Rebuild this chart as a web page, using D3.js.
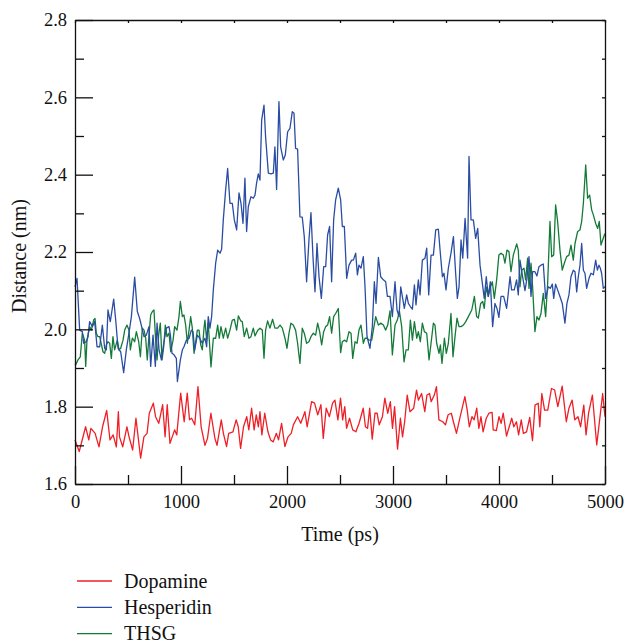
<!DOCTYPE html>
<html>
<head>
<meta charset="utf-8">
<script src="https://cdn.jsdelivr.net/npm/d3@7"></script>
<style>
body { margin: 0; background: #fff; }
text { font-family: "Liberation Serif", "DejaVu Serif", serif; fill: #111; }
</style>
</head>
<body>
<svg id="chart" width="627" height="642"></svg>
<script>
// [time (ps), distance (nm)]
var dopamine = [[0,1.714],[40,1.684],[100,1.748],[130,1.714],[150,1.744],[190,1.731],[226,1.696],[260,1.748],[299,1.79],[330,1.714],[360,1.727],[390,1.696],[409,1.787],[420,1.722],[450,1.696],[490,1.748],[510,1.722],[544,1.688],[575,1.77],[619,1.667],[650,1.722],[680,1.731],[701,1.783],[739,1.809],[760,1.774],[790,1.757],[827,1.805],[850,1.722],[870,1.805],[896,1.705],[940,1.74],[960,1.727],[997,1.835],[1030,1.761],[1059,1.835],[1080,1.766],[1100,1.77],[1130,1.753],[1160,1.852],[1190,1.748],[1226,1.7],[1250,1.718],[1282,1.783],[1320,1.718],[1340,1.7],[1380,1.766],[1400,1.731],[1430,1.697],[1450,1.731],[1490,1.735],[1520,1.766],[1540,1.748],[1562,1.692],[1590,1.748],[1620,1.774],[1640,1.74],[1666,1.796],[1690,1.74],[1710,1.779],[1730,1.748],[1745,1.787],[1763,1.727],[1790,1.783],[1820,1.735],[1845,1.714],[1870,1.709],[1900,1.731],[1920,1.714],[1949,1.757],[1980,1.697],[2010,1.722],[2040,1.731],[2060,1.753],[2100,1.774],[2130,1.757],[2169,1.787],[2190,1.748],[2232,1.813],[2260,1.809],[2290,1.779],[2320,1.805],[2342,1.718],[2370,1.796],[2400,1.774],[2430,1.809],[2452,1.817],[2480,1.766],[2505,1.822],[2525,1.766],[2545,1.8],[2562,1.744],[2590,1.77],[2620,1.74],[2650,1.735],[2680,1.757],[2719,1.796],[2740,1.748],[2760,1.744],[2780,1.796],[2804,1.716],[2830,1.783],[2850,1.783],[2870,1.753],[2900,1.774],[2923,1.822],[2950,1.783],[2975,1.813],[2995,1.744],[3015,1.8],[3043,1.69],[3070,1.77],[3090,1.722],[3110,1.761],[3134,1.83],[3160,1.787],[3195,1.796],[3222,1.843],[3240,1.817],[3270,1.834],[3300,1.787],[3320,1.83],[3345,1.834],[3360,1.813],[3390,1.83],[3410,1.852],[3433,1.766],[3470,1.761],[3495,1.753],[3520,1.779],[3550,1.783],[3570,1.761],[3599,1.731],[3630,1.77],[3678,1.826],[3700,1.791],[3720,1.748],[3745,1.774],[3765,1.766],[3790,1.796],[3810,1.744],[3830,1.774],[3850,1.735],[3880,1.77],[3905,1.783],[3935,1.785],[3945,1.74],[3975,1.738],[4000,1.774],[4020,1.757],[4040,1.783],[4071,1.724],[4120,1.77],[4140,1.748],[4165,1.761],[4185,1.727],[4210,1.766],[4230,1.731],[4260,1.735],[4290,1.772],[4316,1.712],[4340,1.804],[4370,1.809],[4385,1.748],[4404,1.834],[4430,1.791],[4460,1.791],[4495,1.847],[4525,1.843],[4555,1.8],[4596,1.853],[4635,1.761],[4660,1.796],[4690,1.817],[4715,1.766],[4745,1.774],[4770,1.748],[4800,1.804],[4821,1.727],[4845,1.783],[4881,1.83],[4922,1.701],[4960,1.791],[4978,1.834],[5000,1.774]];

var hesperidin = [[0,2.11],[19,2.132],[44,1.998],[69,1.994],[82,1.964],[107,1.968],[123,1.981],[138,2.02],[164,2.007],[186,2.02],[208,1.955],[233,1.955],[258,2.011],[280,1.951],[296,1.947],[311,2.05],[333,2.02],[365,2.078],[384,2.024],[406,1.951],[431,1.942],[459,1.888],[484,1.947],[509,1.99],[532,2.033],[563,2.135],[588,2.046],[610,2.028],[632,2.003],[651,1.981],[673,1.985],[698,2.007],[714,1.904],[736,1.985],[758,1.904],[774,2.016],[793,1.947],[815,1.921],[837,1.964],[862,2.003],[887,2.007],[900,1.985],[915,1.938],[934,1.934],[956,1.925],[966,1.865],[994,1.921],[1013,1.947],[1028,1.955],[1050,1.972],[1076,1.977],[1098,1.998],[1113,1.994],[1129,1.947],[1154,1.985],[1176,1.977],[1201,1.964],[1226,1.977],[1242,1.955],[1257,2.033],[1273,2.003],[1289,2.033],[1305,2.102],[1327,2.171],[1346,2.205],[1368,2.197],[1383,2.207],[1399,2.283],[1421,2.36],[1440,2.416],[1462,2.326],[1484,2.326],[1503,2.283],[1525,2.257],[1547,2.353],[1566,2.326],[1585,2.274],[1603,2.391],[1619,2.253],[1635,2.317],[1660,2.343],[1682,2.339],[1698,2.347],[1713,2.378],[1729,2.402],[1745,2.386],[1761,2.541],[1783,2.58],[1798,2.498],[1824,2.404],[1849,2.402],[1871,2.404],[1886,2.472],[1902,2.362],[1924,2.589],[1940,2.472],[1965,2.438],[1984,2.451],[2006,2.511],[2028,2.52],[2050,2.563],[2066,2.559],[2081,2.468],[2100,2.466],[2122,2.291],[2144,2.29],[2163,2.24],[2185,2.123],[2207,2.231],[2226,2.302],[2245,2.188],[2264,2.097],[2283,2.222],[2302,2.136],[2324,2.08],[2346,2.162],[2365,2.162],[2383,2.244],[2402,2.266],[2421,2.123],[2440,2.283],[2459,2.335],[2484,2.365],[2506,2.335],[2522,2.266],[2541,2.266],[2563,2.132],[2585,2.166],[2610,2.179],[2626,2.179],[2648,2.197],[2664,2.141],[2679,2.166],[2698,2.158],[2720,2.188],[2736,2.11],[2755,1.981],[2783,1.951],[2805,2.007],[2824,2.123],[2840,2.067],[2862,2.186],[2884,2.136],[2909,2.128],[2931,2.123],[2947,2.085],[2972,2.085],[2994,2.033],[3019,2.123],[3038,2.05],[3057,2.033],[3073,2.11],[3088,2.085],[3107,2.054],[3129,2.089],[3145,2.067],[3164,2.059],[3183,2.052],[3202,2.115],[3217,2.063],[3239,2.128],[3255,2.089],[3277,2.179],[3302,2.184],[3318,2.21],[3337,2.089],[3359,2.192],[3381,2.192],[3403,2.257],[3428,2.259],[3444,2.205],[3466,2.136],[3481,2.145],[3500,2.102],[3522,2.158],[3547,2.197],[3570,2.24],[3591,2.145],[3607,2.08],[3623,2.11],[3642,2.231],[3658,2.184],[3680,2.287],[3704,2.184],[3717,2.447],[3736,2.283],[3758,2.283],[3780,2.235],[3799,2.261],[3821,2.166],[3843,2.119],[3861,2.08],[3880,2.136],[3899,2.085],[3918,2.123],[3940,2.007],[3962,2.067],[3981,2.054],[3999,2.031],[4019,2.085],[4044,2.085],[4072,2.054],[4104,2.136],[4119,2.102],[4144,2.102],[4166,2.128],[4182,2.089],[4198,2.179],[4220,2.141],[4245,2.1],[4264,2.132],[4283,2.188],[4302,2.085],[4317,2.149],[4339,2.149],[4358,2.138],[4377,2.162],[4396,2.166],[4418,2.169],[4440,2.08],[4465,2.11],[4484,2.106],[4503,2.117],[4516,2.08],[4534,2.117],[4553,2.102],[4575,2.085],[4597,2.067],[4622,2.016],[4641,2.067],[4660,2.089],[4679,2.136],[4701,2.153],[4717,2.149],[4733,2.097],[4748,2.136],[4764,2.166],[4780,2.222],[4796,2.153],[4811,2.145],[4827,2.106],[4849,2.132],[4868,2.145],[4890,2.141],[4912,2.179],[4928,2.153],[4943,2.166],[4956,2.158],[4968,2.145],[4984,2.106],[5000,2.11]];

var thsg = [[0,1.91],[6,1.908],[28,1.921],[50,1.929],[69,1.99],[91,1.972],[101,1.904],[113,1.972],[138,2.007],[154,1.998],[176,2.024],[189,2.028],[201,1.99],[217,1.981],[233,1.981],[264,1.942],[280,1.938],[296,1.96],[311,1.968],[327,1.964],[343,1.925],[358,1.981],[374,1.947],[399,1.972],[415,1.947],[431,1.951],[453,1.972],[469,1.998],[490,2.011],[509,1.998],[522,1.947],[541,1.977],[563,1.968],[579,1.994],[601,1.968],[617,1.929],[635,2.003],[651,1.998],[667,1.977],[682,1.921],[698,1.985],[714,2.037],[730,2.046],[745,2.05],[761,1.972],[774,1.921],[789,1.985],[805,2.016],[821,1.921],[837,1.955],[852,2.011],[868,1.981],[887,1.99],[903,1.942],[925,1.972],[940,2.007],[962,1.998],[981,2.033],[994,2.072],[1013,2.033],[1028,2.037],[1044,2.011],[1060,1.964],[1076,1.998],[1091,2.033],[1107,2.003],[1123,1.938],[1139,1.968],[1154,1.998],[1170,1.998],[1186,1.96],[1201,1.947],[1217,2.003],[1226,2.024],[1242,1.972],[1257,2.016],[1283,1.903],[1305,1.977],[1327,1.977],[1346,2.011],[1361,1.977],[1377,2.007],[1399,1.977],[1421,2.003],[1440,1.977],[1462,1.998],[1484,2.024],[1503,2.026],[1525,1.998],[1541,2.035],[1563,2.022],[1578,2.02],[1597,1.981],[1619,2.003],[1641,1.977],[1660,1.981],[1682,2.003],[1698,1.983],[1723,1.997],[1745,2.003],[1767,1.998],[1783,1.925],[1798,1.998],[1817,2.022],[1839,2.003],[1864,2.026],[1886,2.003],[1912,2.003],[1934,2.011],[1956,2.003],[1981,1.977],[2000,1.951],[2019,1.99],[2037,2.016],[2059,2.011],[2081,1.998],[2100,1.964],[2122,1.912],[2144,2.003],[2163,1.99],[2185,1.964],[2207,1.968],[2226,1.981],[2248,1.99],[2270,1.985],[2289,2.016],[2308,1.994],[2327,1.96],[2346,1.994],[2365,2.007],[2383,2.011],[2402,2.033],[2421,1.99],[2440,2.033],[2459,2.041],[2484,2.054],[2506,1.94],[2522,1.968],[2541,1.972],[2563,1.968],[2585,1.994],[2604,1.99],[2620,1.925],[2642,1.968],[2661,1.964],[2679,1.998],[2698,2.011],[2720,1.964],[2736,1.977],[2755,1.977],[2774,1.972],[2799,1.972],[2818,2.003],[2837,2.033],[2862,2.011],[2884,2.016],[2909,2.011],[2931,1.998],[2950,2.011],[2972,2.048],[2994,1.934],[3019,2.011],[3041,2.024],[3060,2.048],[3082,2.007],[3104,1.916],[3123,1.947],[3145,1.947],[3164,2.024],[3183,1.972],[3202,2.02],[3224,1.977],[3239,1.994],[3258,1.968],[3277,2.016],[3296,1.994],[3318,1.99],[3340,1.921],[3359,1.964],[3381,2.016],[3396,2.011],[3412,1.964],[3434,1.938],[3447,1.96],[3462,1.912],[3485,1.977],[3503,1.938],[3522,1.964],[3547,2.041],[3566,1.929],[3585,1.981],[3604,2.029],[3623,2.007],[3642,2.007],[3664,2.011],[3686,2.02],[3711,2.033],[3743,2.05],[3768,2.085],[3789,2.033],[3805,2.029],[3827,2.067],[3846,2.072],[3861,2.054],[3880,2.11],[3899,2.085],[3915,2.106],[3937,2.123],[3956,2.08],[3978,2.128],[3999,2.192],[4019,2.197],[4041,2.192],[4056,2.171],[4075,2.205],[4094,2.201],[4113,2.149],[4135,2.192],[4167,2.221],[4182,2.205],[4198,2.11],[4214,2.153],[4236,2.158],[4251,2.128],[4270,2.184],[4283,2.106],[4302,2.171],[4317,2.11],[4339,1.994],[4358,2.033],[4377,2.024],[4396,2.041],[4418,2.093],[4440,2.033],[4459,2.119],[4481,2.279],[4497,2.188],[4516,2.192],[4534,2.322],[4553,2.279],[4575,2.205],[4597,2.153],[4616,2.171],[4638,2.188],[4660,2.192],[4679,2.218],[4701,2.179],[4717,2.222],[4742,2.253],[4764,2.257],[4780,2.279],[4796,2.326],[4818,2.425],[4836,2.339],[4855,2.347],[4874,2.309],[4890,2.296],[4912,2.274],[4931,2.261],[4946,2.279],[4962,2.218],[4978,2.231],[4994,2.244],[5000,2.248]];

var xTicks = [0, 1000, 2000, 3000, 4000, 5000];
var xMinor = [500, 1500, 2500, 3500, 4500];
var yTicks = [1.6, 1.8, 2.0, 2.2, 2.4, 2.6, 2.8];
var yMinor = [1.7, 1.9, 2.1, 2.3, 2.5, 2.7];
var seriesNames = ['Dopamine', 'Hesperidin', 'THSG'];
var seriesColors = ['#ee1f26', '#2a4da3', '#147a38'];

var svg = d3.select('#chart');
var x = d3.scaleLinear().domain([0, 5000]).range([75, 605]);
var y = d3.scaleLinear().domain([1.6, 2.8]).range([484, 20]);

var line = d3.line().x(function (d) { return x(d[0]); }).y(function (d) { return y(d[1]); });

// series, drawn green first so red/blue sit on top like the original
var series = [thsg, hesperidin, dopamine];
var seriesCol = [seriesColors[2], seriesColors[1], seriesColors[0]];
svg.append('g').selectAll('path').data(series).enter().append('path')
    .attr('d', line)
    .attr('fill', 'none')
    .attr('stroke', function (d, i) { return seriesCol[i]; })
    .attr('stroke-width', 1.3)
    .attr('stroke-linejoin', 'round');

function styleAxis(g) {
    g.attr('font-family', '"Liberation Serif", "DejaVu Serif", serif').attr('font-size', 18.5);
    g.selectAll('line').attr('stroke', '#111').attr('stroke-width', 1.3);
    g.selectAll('path').attr('stroke', '#111').attr('stroke-width', 1.3);
    g.selectAll('text').attr('fill', '#111');
}

// bottom axis
svg.append('g').attr('transform', 'translate(0,484)')
    .call(d3.axisBottom(x).tickValues(xTicks).tickSizeInner(-18).tickSizeOuter(0).tickPadding(11).tickFormat(d3.format('d')))
    .call(styleAxis);
svg.append('g').attr('transform', 'translate(0,484)')
    .call(d3.axisBottom(x).tickValues(xMinor).tickSizeInner(-9).tickSizeOuter(0).tickFormat(''))
    .call(styleAxis).select('.domain').remove();

// left axis
svg.append('g').attr('transform', 'translate(75,0)')
    .call(d3.axisLeft(y).tickValues(yTicks).tickSizeInner(-18).tickSizeOuter(0).tickPadding(8).tickFormat(d3.format('.1f')))
    .call(styleAxis);
svg.append('g').attr('transform', 'translate(75,0)')
    .call(d3.axisLeft(y).tickValues(yMinor).tickSizeInner(-9).tickSizeOuter(0).tickFormat(''))
    .call(styleAxis).select('.domain').remove();

// top and right frame with small inner ticks
svg.append('g').attr('transform', 'translate(0,20)')
    .call(d3.axisTop(x).tickValues(xTicks.concat(xMinor)).tickSizeInner(-3).tickSizeOuter(0).tickFormat(''))
    .call(styleAxis);
svg.append('g').attr('transform', 'translate(605,0)')
    .call(d3.axisRight(y).tickValues(yTicks.concat(yMinor)).tickSizeInner(-3).tickSizeOuter(0).tickFormat(''))
    .call(styleAxis);

// axis titles
svg.append('text').attr('x', 340).attr('y', 541).attr('text-anchor', 'middle')
    .attr('font-size', 20).text('Time (ps)');
svg.append('text').attr('transform', 'translate(26,256) rotate(-90)').attr('text-anchor', 'middle')
    .attr('font-size', 20).text('Distance (nm)');

// legend
var legend = svg.append('g').selectAll('g').data(seriesNames).enter().append('g')
    .attr('transform', function (d, i) { return 'translate(0,' + (581 + i * 26.3) + ')'; });
legend.append('line').attr('x1', 77).attr('x2', 112).attr('y1', 0).attr('y2', 0)
    .attr('stroke', function (d, i) { return seriesColors[i]; }).attr('stroke-width', 1.3);
legend.append('text').attr('x', 124).attr('y', 6.5).attr('font-size', 20).text(function (d) { return d; });
</script>
</body>
</html>
